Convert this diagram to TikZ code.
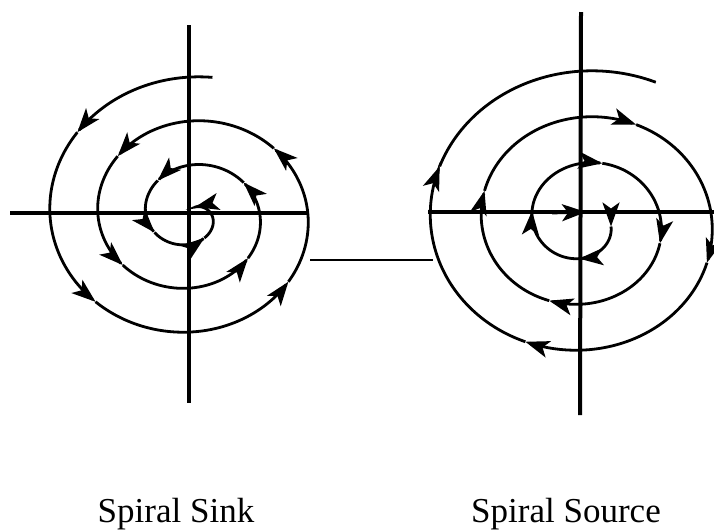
\documentclass[tikz,border=0pt]{standalone}
\usepackage{fontspec}
\setmainfont{Liberation Serif}
\usetikzlibrary{arrows.meta}
\tikzset{
  axisline/.style={line width=4pt},
  spiralline/.style={line width=2.8pt},
  linkline/.style={line width=1.8pt},
  midtip/.style={-{Stealth[length=24pt,width=17pt,inset=6pt]}},
  caption/.style={font=\fontsize{35}{40}\selectfont, anchor=base, inner sep=0pt}
}
\begin{document}
\begin{tikzpicture}[x=1pt,y=-1pt]
\useasboundingbox[fill=white] (0,0) rectangle (714,531);
% named end points
\coordinate (LVt) at (189,25);
\coordinate (LVb) at (189,403);
\coordinate (LHl) at (10,213);
\coordinate (LHr) at (308,213);
\coordinate (RVt) at (581,12);
\coordinate (RVb) at (580,415);
\coordinate (RHl) at (428,212);
\coordinate (RHr) at (714,212);
\coordinate (Ca) at (310,260);
\coordinate (Cb) at (433,260);
% axes
\draw[axisline] (LVt) -- (LVb);
\draw[axisline] (LHl) -- (LHr);
\draw[axisline] (RVt) -- (RVb);
\draw[axisline] (RHl) -- (RHr);
% connector
\draw[linkline] (Ca) -- (Cb);
% spiral sink (counterclockwise, inward)
\foreach \a/\b in {82/141,141/225,225/323,323/402,402/498,498/579,579/680,680/755,755/850,850/928,928/1017,1017/1150}
  \draw[spiralline,midtip] plot[domain=\a:\b,samples=40,smooth]
    ({191+(165-0.1333*\x)*cos(\x)},{215.5-(149.5-0.1222*\x)*sin(\x)});
% spiral source (clockwise, outward)
\coordinate (S0) at (552,213);
\coordinate (S1) at (586,212);
\coordinate (S2) at (611,226.5);
\draw[spiralline,midtip] (S0) -- (S1);
\draw[spiralline,midtip] (S1) .. controls (601,211) and (611,214) .. (S2);
\foreach \a/\b in {10/97,97/193,193/286,286/377,377/472,472/559,559/656,656/740,740/834,834/923}
  \draw[spiralline,midtip] plot[domain=\a:\b,samples=40,smooth]
    ({584+(26+0.1417*\x)*cos(\x)},{222+(24.5+0.1278*\x)*sin(\x)});
\draw[spiralline] plot[domain=923:1015,samples=40,smooth]
    ({584+(26+0.1417*\x)*cos(\x)},{222+(24.5+0.1278*\x)*sin(\x)});
% captions
\node[caption] (sink) at (176,522) {Spiral Sink};
\node[caption] (source) at (566,522) {Spiral Source};
\end{tikzpicture}
\end{document}
